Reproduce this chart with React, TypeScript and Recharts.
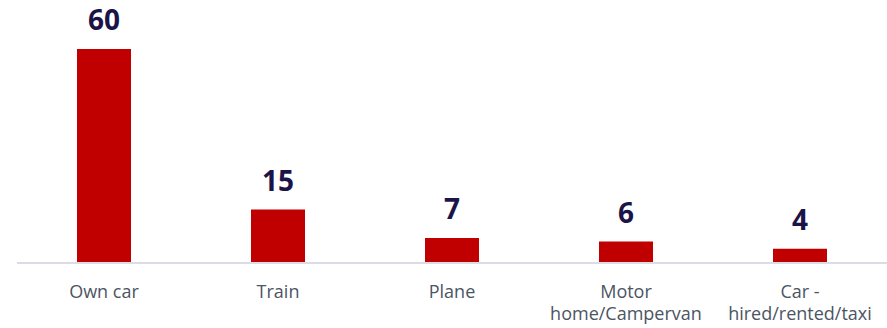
import { BarChart, Bar, XAxis, YAxis, LabelList } from "recharts";

const categories = ["Own car", "Train", "Plane", "Motor home/Campervan", "Car - hired/rented/taxi"];
const tickLines = [["Own car"], ["Train"], ["Plane"], ["Motor", "home/Campervan"], ["Car -", "hired/rented/taxi"]];
const values = [60, 15, 7, 6, 4];

const data = categories.map((name, i) => ({ name, value: values[i] }));

const FONT = "'Open Sans', sans-serif";

// multi-line category tick
function CategoryTick(props: any) {
    const { x, y, index } = props;
    const lines = tickLines[index] || [props.payload.value];
    return (
        <g>
            {lines.map((line, i) => (
                <text
                    key={i}
                    x={x}
                    y={y + 27 + i * 22}
                    textAnchor="middle"
                    fontFamily={FONT}
                    fontSize={18}
                    fill="#4b5563"
                >
                    {line}
                </text>
            ))}
        </g>
    );
}

function ValueLabel(props: any) {
    const { x, y, width, value } = props;
    return (
        <text
            x={x + width / 2}
            y={y - 19}
            textAnchor="middle"
            fontFamily={FONT}
            fontSize={28}
            fontWeight={700}
            fill="#1b1547"
        >
            {value}
        </text>
    );
}

export default function App() {
    return (
        <div style={{ position: "absolute", left: 0, top: 0, width: 887, height: 328, background: "#fff" }}>
            <BarChart width={887} height={328} data={data} margin={{ top: 49, right: 0, left: 17, bottom: 0 }} barSize={54}>
                <XAxis
                    dataKey="name"
                    height={65}
                    tickLine={false}
                    axisLine={{ stroke: "#dcdce4", strokeWidth: 2 }}
                    tick={<CategoryTick />}
                    interval={0}
                />
                <YAxis hide domain={[0, 60]} />
                <Bar dataKey="value" fill="#c00000" isAnimationActive={false}>
                    <LabelList dataKey="value" content={<ValueLabel />} />
                </Bar>
            </BarChart>
        </div>
    );
}
